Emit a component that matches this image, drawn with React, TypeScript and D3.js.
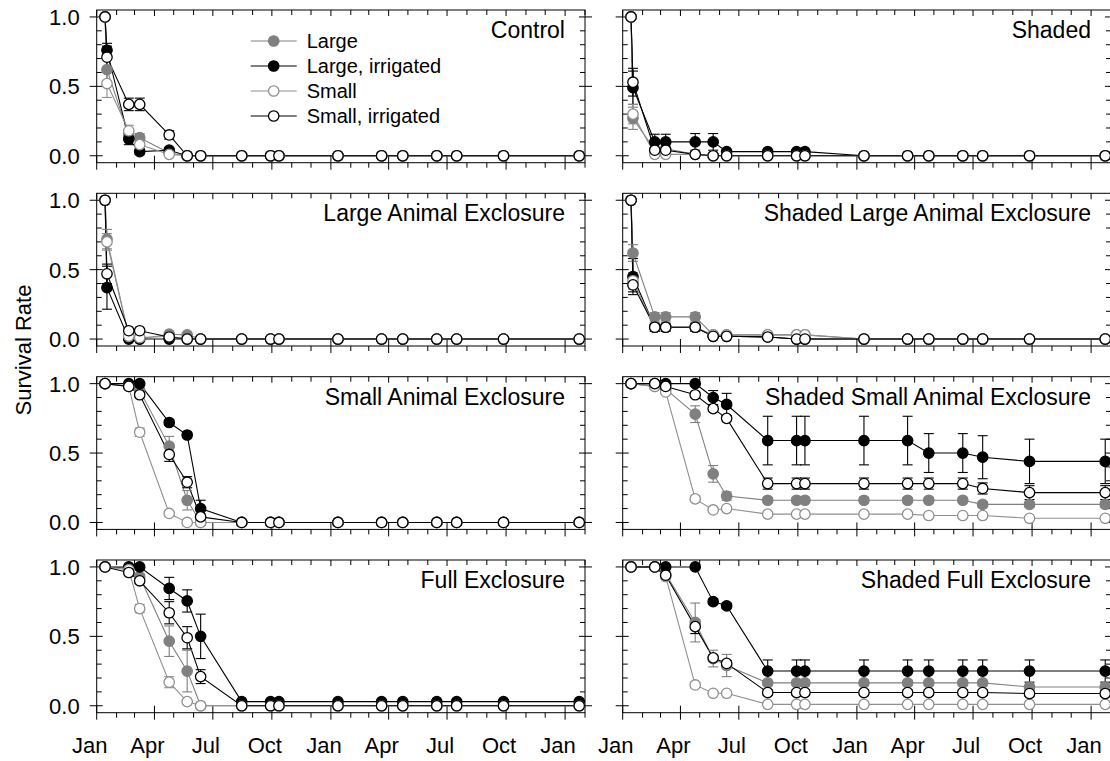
import * as d3 from 'd3'

const parseDate = d3.timeParse('%Y-%m-%d')

const sampleDates = [
  '2009-01-14', '2009-01-17', '2009-02-20', '2009-03-09', '2009-04-24',
  '2009-05-22', '2009-06-12', '2009-08-15', '2009-09-29', '2009-10-12',
  '2010-01-12', '2010-03-21', '2010-04-23', '2010-06-15', '2010-07-16',
  '2010-09-27', '2011-01-23',
]

const seriesNames = ['Large', 'Large, irrigated', 'Small', 'Small, irrigated']

const panelTitles = [
  'Control', 'Shaded',
  'Large Animal Exclosure', 'Shaded Large Animal Exclosure',
  'Small Animal Exclosure', 'Shaded Small Animal Exclosure',
  'Full Exclosure', 'Shaded Full Exclosure',
]

const yTicks = [0, 0.5, 1]

// mean survival, one row per series (Large, Large irr., Small, Small irr.)
const controlMean = [
  [1, 0.62, 0.15, 0.13, 0.02, 0, 0, 0, 0, 0, 0, 0, 0, 0, 0, 0, 0],
  [1, 0.76, 0.12, 0.03, 0.04, 0, 0, 0, 0, 0, 0, 0, 0, 0, 0, 0, 0],
  [1, 0.52, 0.18, 0.08, 0.01, 0, 0, 0, 0, 0, 0, 0, 0, 0, 0, 0, 0],
  [1, 0.71, 0.37, 0.37, 0.15, 0, 0, 0, 0, 0, 0, 0, 0, 0, 0, 0, 0],
]
const controlErr = [
  [0, 0.08, 0.03, 0.03, 0.01, 0, 0, 0, 0, 0, 0, 0, 0, 0, 0, 0, 0],
  [0, 0.05, 0.04, 0.02, 0.01, 0, 0, 0, 0, 0, 0, 0, 0, 0, 0, 0, 0],
  [0, 0.1, 0.04, 0.03, 0.01, 0, 0, 0, 0, 0, 0, 0, 0, 0, 0, 0, 0],
  [0, 0.08, 0.045, 0.045, 0.03, 0, 0, 0, 0, 0, 0, 0, 0, 0, 0, 0, 0],
]

const shadedMean = [
  [1, 0.27, 0.04, 0.05, 0.01, 0, 0, 0, 0, 0, 0, 0, 0, 0, 0, 0, 0],
  [1, 0.49, 0.1, 0.1, 0.1, 0.1, 0.03, 0.03, 0.03, 0.03, 0, 0, 0, 0, 0, 0, 0],
  [1, 0.3, 0.01, 0.01, 0.01, 0, 0, 0, 0, 0, 0, 0, 0, 0, 0, 0, 0],
  [1, 0.53, 0.04, 0.04, 0.01, 0, 0, 0, 0, 0, 0, 0, 0, 0, 0, 0, 0],
]
const shadedErr = [
  [0, 0.08, 0.02, 0.02, 0, 0, 0, 0, 0, 0, 0, 0, 0, 0, 0, 0, 0],
  [0, 0.12, 0.055, 0.055, 0.06, 0.06, 0.01, 0.01, 0.01, 0.01, 0, 0, 0, 0, 0, 0, 0],
  [0, 0.07, 0, 0, 0, 0, 0, 0, 0, 0, 0, 0, 0, 0, 0, 0, 0],
  [0, 0.1, 0.02, 0.02, 0, 0, 0, 0, 0, 0, 0, 0, 0, 0, 0, 0, 0],
]

const largeAEMean = [
  [1, 0.72, 0.02, 0, 0.035, 0.03, 0, 0, 0, 0, 0, 0, 0, 0, 0, 0, 0],
  [1, 0.37, 0, 0, 0, 0, 0, 0, 0, 0, 0, 0, 0, 0, 0, 0, 0],
  [1, 0.7, 0.02, 0.01, 0.02, 0, 0, 0, 0, 0, 0, 0, 0, 0, 0, 0, 0],
  [1, 0.47, 0.06, 0.06, 0.015, 0, 0, 0, 0, 0, 0, 0, 0, 0, 0, 0, 0],
]
const largeAEErr = [
  [0, 0.07, 0.01, 0, 0.01, 0.01, 0, 0, 0, 0, 0, 0, 0, 0, 0, 0, 0],
  [0, 0.155, 0, 0, 0, 0, 0, 0, 0, 0, 0, 0, 0, 0, 0, 0, 0],
  [0, 0.06, 0, 0, 0, 0, 0, 0, 0, 0, 0, 0, 0, 0, 0, 0, 0],
  [0, 0.07, 0.01, 0.01, 0, 0, 0, 0, 0, 0, 0, 0, 0, 0, 0, 0, 0],
]

const shadedLargeAEMean = [
  [1, 0.62, 0.16, 0.16, 0.16, 0.03, 0.03, 0.03, 0.03, 0.03, 0, 0, 0, 0, 0, 0, 0],
  [1, 0.45, 0.085, 0.085, 0.085, 0.02, 0.02, 0.015, 0, 0, 0, 0, 0, 0, 0, 0, 0],
  [1, 0.42, 0.085, 0.085, 0.085, 0.03, 0.03, 0.03, 0.03, 0.03, 0, 0, 0, 0, 0, 0, 0],
  [1, 0.39, 0.085, 0.085, 0.085, 0.02, 0.02, 0.015, 0, 0, 0, 0, 0, 0, 0, 0, 0],
]
const shadedLargeAEErr = [
  [0, 0.06, 0.03, 0.03, 0.03, 0.01, 0.01, 0.01, 0.01, 0.01, 0, 0, 0, 0, 0, 0, 0],
  [0, 0.13, 0.03, 0.03, 0.03, 0, 0, 0, 0, 0, 0, 0, 0, 0, 0, 0, 0],
  [0, 0.06, 0.02, 0.02, 0.02, 0.01, 0.01, 0.01, 0.01, 0.01, 0, 0, 0, 0, 0, 0, 0],
  [0, 0.05, 0.02, 0.02, 0.02, 0, 0, 0, 0, 0, 0, 0, 0, 0, 0, 0, 0],
]

const smallAEMean = [
  [1, null, 0.98, 0.95, 0.55, 0.16, 0, 0, 0, 0, 0, 0, 0, 0, 0, 0, 0],
  [1, null, 1, 1, 0.72, 0.63, 0.1, 0, 0, 0, 0, 0, 0, 0, 0, 0, 0],
  [1, null, 0.98, 0.65, 0.065, 0, 0, 0, 0, 0, 0, 0, 0, 0, 0, 0, 0],
  [1, null, 0.98, 0.92, 0.49, 0.29, 0.04, 0, 0, 0, 0, 0, 0, 0, 0, 0, 0],
]
const smallAEErr = [
  [0, 0, 0.01, 0.02, 0.07, 0.07, 0, 0, 0, 0, 0, 0, 0, 0, 0, 0, 0],
  [0, 0, 0, 0, 0.02, 0.02, 0.06, 0, 0, 0, 0, 0, 0, 0, 0, 0, 0],
  [0, 0, 0.01, 0.03, 0.01, 0, 0, 0, 0, 0, 0, 0, 0, 0, 0, 0, 0],
  [0, 0, 0.01, 0.02, 0.05, 0.04, 0.02, 0, 0, 0, 0, 0, 0, 0, 0, 0, 0],
]

const shadedSmallAEMean = [
  [1, null, 0.98, 0.96, 0.78, 0.35, 0.19, 0.16, 0.16, 0.16, 0.16, 0.16, 0.16, 0.16, 0.13, 0.13, 0.13],
  [1, null, 1, 1, 1, 0.9, 0.85, 0.59, 0.59, 0.59, 0.59, 0.59, 0.5, 0.5, 0.47, 0.44, 0.44],
  [1, null, 0.98, 0.94, 0.17, 0.09, 0.1, 0.06, 0.06, 0.06, 0.06, 0.06, 0.05, 0.05, 0.05, 0.03, 0.03],
  [1, null, 1, 0.98, 0.92, 0.82, 0.75, 0.28, 0.28, 0.28, 0.28, 0.28, 0.28, 0.28, 0.245, 0.215, 0.215],
]
const shadedSmallAEErr = [
  [0, 0, 0.01, 0.01, 0.06, 0.06, 0.03, 0.02, 0.02, 0.02, 0.02, 0.02, 0.02, 0.02, 0.02, 0.02, 0.02],
  [0, 0, 0, 0, 0, 0.05, 0.08, 0.175, 0.175, 0.175, 0.175, 0.175, 0.14, 0.14, 0.155, 0.16, 0.16],
  [0, 0, 0.01, 0.01, 0.02, 0.01, 0.01, 0.01, 0.01, 0.01, 0.01, 0.01, 0.01, 0.01, 0.01, 0.01, 0.01],
  [0, 0, 0, 0.01, 0.02, 0.02, 0.02, 0.04, 0.04, 0.04, 0.04, 0.04, 0.04, 0.04, 0.04, 0.05, 0.05],
]

const fullMean = [
  [1, null, 0.99, 0.93, 0.465, 0.25, 0, 0, 0, 0, 0, 0, 0, 0, 0, 0, 0],
  [1, null, 1, 1, 0.845, 0.755, 0.5, 0.03, 0.03, 0.03, 0.03, 0.03, 0.03, 0.03, 0.03, 0.03, 0.03],
  [1, null, 0.98, 0.7, 0.17, 0.03, 0, 0, 0, 0, 0, 0, 0, 0, 0, 0, 0],
  [1, null, 0.96, 0.9, 0.67, 0.49, 0.21, 0, 0, 0, 0, 0, 0, 0, 0, 0, 0],
]
const fullErr = [
  [0, 0, 0.01, 0.02, 0.11, 0.15, 0, 0, 0, 0, 0, 0, 0, 0, 0, 0, 0],
  [0, 0, 0, 0, 0.08, 0.08, 0.16, 0.01, 0.01, 0.01, 0.01, 0.01, 0.01, 0.01, 0.01, 0.01, 0.01],
  [0, 0, 0.01, 0.03, 0.04, 0.01, 0, 0, 0, 0, 0, 0, 0, 0, 0, 0, 0],
  [0, 0, 0.01, 0.02, 0.08, 0.08, 0.05, 0, 0, 0, 0, 0, 0, 0, 0, 0, 0],
]

const shadedFullMean = [
  [1, null, 1, 0.95, 0.6, 0.34, 0.29, 0.165, 0.165, 0.165, 0.165, 0.165, 0.165, 0.165, 0.165, 0.135, 0.135],
  [1, null, 1, 1, 1, 0.75, 0.72, 0.25, 0.25, 0.25, 0.25, 0.25, 0.25, 0.25, 0.25, 0.25, 0.25],
  [1, null, 1, 0.93, 0.15, 0.09, 0.09, 0.01, 0.01, 0.01, 0.01, 0.01, 0.01, 0.01, 0.01, 0.01, 0.01],
  [1, null, 1, 0.94, 0.57, 0.345, 0.305, 0.095, 0.095, 0.095, 0.095, 0.095, 0.095, 0.095, 0.095, 0.088, 0.088],
]
const shadedFullErr = [
  [0, 0, 0, 0.01, 0.14, 0.06, 0.08, 0.02, 0.02, 0.02, 0.02, 0.02, 0.02, 0.02, 0.02, 0.02, 0.02],
  [0, 0, 0, 0, 0, 0.02, 0.02, 0.08, 0.08, 0.08, 0.08, 0.08, 0.08, 0.08, 0.08, 0.08, 0.08],
  [0, 0, 0, 0.01, 0.02, 0.01, 0.01, 0.01, 0.01, 0.01, 0.01, 0.01, 0.01, 0.01, 0.01, 0.01, 0.01],
  [0, 0, 0, 0.01, 0.05, 0.02, 0.02, 0.02, 0.02, 0.02, 0.02, 0.02, 0.02, 0.02, 0.02, 0.02, 0.02],
]

const panelMeans = [
  controlMean, shadedMean, largeAEMean, shadedLargeAEMean,
  smallAEMean, shadedSmallAEMean, fullMean, shadedFullMean,
]
const panelErrs = [
  controlErr, shadedErr, largeAEErr, shadedLargeAEErr,
  smallAEErr, shadedSmallAEErr, fullErr, shadedFullErr,
]

// styles per series
const fills = ['#808080', '#000000', '#ffffff', '#ffffff']
const strokes = ['#808080', '#000000', '#909090', '#000000']

const font = '"Liberation Sans", Arial, Helvetica, sans-serif'
const PW = 488.3
const PH = 152.7
const colX = [96.7, 622.7]
const rowY = [10, 193.3, 376.7, 560]

const dates = sampleDates.map(d => parseDate(d) as Date)
const xScale = d3
  .scaleTime()
  .domain([parseDate('2009-01-01') as Date, parseDate('2011-02-01') as Date])
  .range([0, PW])
const yScale = d3.scaleLinear().domain([-0.05, 1.05]).range([PH, 0])
const monthTicks = xScale.ticks(d3.timeMonth.every(1) as d3.TimeInterval)
const minorY = d3.range(0, 11).map(i => i / 10)
const fmtMonth = d3.timeFormat('%b')

type Pt = { date: Date; v: number; e: number }

const Panel = ({ index }: { index: number }) => {
  const col = index % 2
  const row = Math.floor(index / 2)
  const means = panelMeans[index]
  const errs = panelErrs[index]
  const series = means.map((vals, s) =>
    vals
      .map((v, i) => ({ date: dates[i], v, e: errs[s][i] }))
      .filter(p => p.v !== null) as Pt[]
  )
  const line = d3
    .line<Pt>()
    .x(p => xScale(p.date))
    .y(p => yScale(p.v))

  return (
    <g transform={`translate(${colX[col]},${rowY[row]})`}>
      <rect x={0} y={0} width={PW} height={PH} fill="none" stroke="#000" strokeWidth={1} />
      {/* y ticks, majors cross the frame */}
      {minorY.map(v => {
        const major = yTicks.includes(v)
        const yy = yScale(v)
        return (
          <g key={v} stroke="#000" strokeWidth={1}>
            <line x1={major ? -7 : 0} x2={major ? 6 : 5} y1={yy} y2={yy} />
            <line x1={PW - (major ? 6 : 5)} x2={PW + (major ? 7 : 0)} y1={yy} y2={yy} />
          </g>
        )
      })}
      {col === 0 &&
        yTicks.map(v => (
          <text
            key={v}
            x={-17}
            y={yScale(v)}
            dy="0.36em"
            textAnchor="end"
            fontSize={22}
            fontFamily={font}
          >
            {d3.format('.1f')(v)}
          </text>
        ))}
      {/* x ticks */}
      {monthTicks.map(t => {
        const major = t.getMonth() % 3 === 0
        const xx = xScale(t)
        return (
          <g key={+t} stroke="#000" strokeWidth={1}>
            <line x1={xx} x2={xx} y1={0} y2={major ? 6 : 5} />
            <line x1={xx} x2={xx} y1={PH - (major ? 7 : 0)} y2={PH + (major ? 7 : 5)} />
          </g>
        )
      })}
      {row === 3 &&
        monthTicks
          .filter(t => t.getMonth() % 3 === 0)
          .map(t => (
            <text
              key={+t}
              x={xScale(t) - 7}
              y={PH + 40}
              textAnchor="middle"
              fontSize={22}
              fontFamily={font}
            >
              {fmtMonth(t)}
            </text>
          ))}
      <text
        x={PW - 20}
        y={28}
        textAnchor="end"
        fontSize={23}
        fontFamily={font}
      >
        {panelTitles[index]}
      </text>
      {series.map((pts, s) => (
        <path key={s} d={line(pts) || ''} fill="none" stroke={strokes[s]} strokeWidth={1.1} />
      ))}
      {series.map((pts, s) => (
        <g key={s} stroke={strokes[s]} strokeWidth={1.1}>
          {pts
            .filter(p => p.e > 0)
            .map((p, i) => {
              const xx = xScale(p.date)
              const y1 = yScale(p.v - p.e)
              const y2 = yScale(p.v + p.e)
              return (
                <g key={i}>
                  <line x1={xx} x2={xx} y1={y1} y2={y2} />
                  <line x1={xx - 5} x2={xx + 5} y1={y1} y2={y1} />
                  <line x1={xx - 5} x2={xx + 5} y1={y2} y2={y2} />
                </g>
              )
            })}
        </g>
      ))}
      {series.map((pts, s) => (
        <g key={s}>
          {pts.map((p, i) => (
            <circle
              key={i}
              cx={xScale(p.date)}
              cy={yScale(p.v)}
              r={5.2}
              fill={fills[s]}
              stroke={strokes[s]}
              strokeWidth={1.3}
            />
          ))}
        </g>
      ))}
      {index === 0 &&
        seriesNames.map((name, s) => (
          <g key={name} transform={`translate(154,${31 + s * 25})`}>
            <line x1={0} x2={46} y1={0} y2={0} stroke={strokes[s]} strokeWidth={1.1} />
            <circle cx={23} cy={0} r={5.2} fill={fills[s]} stroke={strokes[s]} strokeWidth={1.3} />
            <text x={56} y={0} dy="0.36em" fontSize={20} fontFamily={font}>
              {name}
            </text>
          </g>
        ))}
    </g>
  )
}

export default function App() {
  return (
    <svg
      width={1110}
      height={761}
      style={{ position: 'absolute', left: 0, top: 0, background: '#fff' }}
    >
      <rect width={1110} height={761} fill="#fff" />
      {panelTitles.map((_, i) => (
        <Panel key={i} index={i} />
      ))}
      <text
        transform="translate(31,350) rotate(-90)"
        textAnchor="middle"
        fontSize={22}
        fontFamily={font}
      >
        Survival Rate
      </text>
    </svg>
  )
}
